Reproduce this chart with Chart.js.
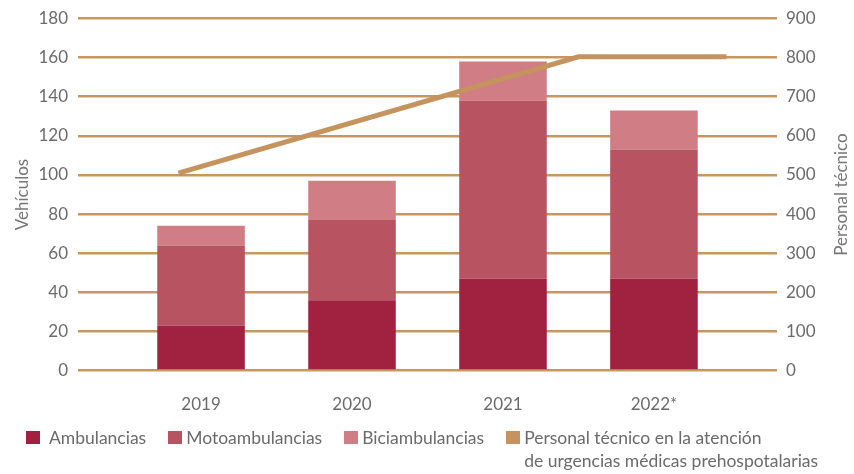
<!DOCTYPE html>
<html>
<head>
<meta charset="utf-8">
<script src="https://cdn.jsdelivr.net/npm/chart.js@4.4.1/dist/chart.umd.min.js"></script>
<style>
  html, body { margin: 0; padding: 0; background: #fff; }
  #wrap { position: relative; width: 854px; height: 474px; }
  #legend {
    position: absolute; left: 26px; top: 426px;
    display: flex; align-items: flex-start;
    font-family: Lato, sans-serif; font-size: 17.5px; color: #6b6b6b; line-height: 23px;
  }
  .item { display: flex; align-items: flex-start; margin-right: 22px; }
  .box { width: 14px; height: 13px; margin-top: 5px; margin-right: 4px; flex: none; }
  .item:first-child .box { margin-right: 9px; }
</style>
</head>
<body>
<div id="wrap">
  <canvas id="chart" width="854" height="474"></canvas>
  <div id="legend"></div>
</div>
<script>
// data
const years = [2019, 2020, 2021, 2022];
const yearLabels = ['2019', '2020', '2021', '2022*'];
const ambulancias = [23, 36, 47, 47];
const motoambulancias = [41, 41, 91, 66];
const biciambulancias = [10, 20, 20, 20];
// personal line: start, bend and end of the drawn line (year units)
const personalYears = [2018.85, 2021.5, 2022.48];
const personalTecnico = [505, 802, 802];

const colors = {
    amb: '#a12140',
    moto: '#b85462',
    bici: '#d07d85',
    line: '#c4935e',
    grid: '#c8975f',
    text: '#6b6b6b'
};

const font = { family: 'Lato, sans-serif', size: 17 };
const tickFont = { family: 'Lato, sans-serif', size: 17, lineHeight: 1 };

function barData(values) {
    return years.map((yr, i) => ({ x: yr, y: values[i] }));
}

// right axis title reads bottom-to-top, Chart.js would rotate it the other way
const rightTitle = {
    id: 'rightTitle',
    afterDraw(chart) {
        const { ctx, chartArea } = chart;
        ctx.save();
        ctx.translate(chart.width - 12, (chartArea.top + chartArea.bottom) / 2);
        ctx.rotate(-Math.PI / 2);
        ctx.font = '17px Lato, sans-serif';
        ctx.fillStyle = '#777';
        ctx.textAlign = 'center';
        ctx.textBaseline = 'middle';
        ctx.fillText('Personal técnico', 0, 0);
        ctx.restore();
    }
};

const ctx = document.getElementById('chart').getContext('2d');
const chart = new Chart(ctx, {
    type: 'bar',
    data: {
        datasets: [
            { label: 'Ambulancias', data: barData(ambulancias), backgroundColor: colors.amb, order: 1 },
            { label: 'Motoambulancias', data: barData(motoambulancias), backgroundColor: colors.moto, order: 1 },
            { label: 'Biciambulancias', data: barData(biciambulancias), backgroundColor: colors.bici, order: 1 },
            {
                type: 'line',
                label: ['Personal técnico en la atención', 'de urgencias médicas prehospotalarias'],
                data: personalYears.map((yr, i) => ({ x: yr, y: personalTecnico[i] })),
                yAxisID: 'y1',
                borderColor: colors.line,
                backgroundColor: colors.line,
                borderWidth: 5,
                borderCapStyle: 'butt',
                pointRadius: 0,
                tension: 0,
                order: 0
            }
        ]
    },
    options: {
        responsive: false,
        animation: false,
        barPercentage: 1,
        categoryPercentage: 0.58,
        layout: { padding: { top: 0, bottom: 43, left: 0, right: 0 } },
        plugins: {
            legend: { display: false },
            tooltip: { enabled: false }
        },
        scales: {
            x: {
                type: 'linear',
                stacked: true,
                offset: false,
                min: 2018.185,
                max: 2022.815,
                grid: { display: false },
                border: { display: false },
                afterBuildTicks: axis => { axis.ticks = years.map(v => ({ value: v })); },
                ticks: {
                    padding: 16,
                    font: font,
                    color: colors.text,
                    callback: v => yearLabels[years.indexOf(v)]
                }
            },
            y: {
                stacked: true,
                min: 0,
                max: 180,
                afterFit: axis => { axis.width = 78; },
                ticks: { stepSize: 20, padding: 10, font: tickFont, color: colors.text },
                grid: { color: colors.grid, lineWidth: 2.5, drawTicks: false },
                border: { display: false },
                title: {
                    display: true,
                    text: 'Vehículos',
                    font: font,
                    color: '#777',
                    padding: { top: 12, bottom: 0 }
                }
            },
            y1: {
                position: 'right',
                min: 0,
                max: 900,
                afterFit: axis => { axis.width = 77; },
                ticks: { stepSize: 100, padding: 9, font: tickFont, color: colors.text },
                grid: { drawOnChartArea: false, drawTicks: false },
                border: { display: false }
            }
        }
    },
    plugins: [rightTitle]
});

// html legend, last label spans two lines
const legendEl = document.getElementById('legend');
chart.data.datasets.forEach(ds => {
    const item = document.createElement('div');
    item.className = 'item';
    const box = document.createElement('span');
    box.className = 'box';
    box.style.background = ds.backgroundColor;
    const txt = document.createElement('span');
    txt.innerHTML = [].concat(ds.label).join('<br>');
    item.appendChild(box);
    item.appendChild(txt);
    legendEl.appendChild(item);
});
</script>
</body>
</html>
